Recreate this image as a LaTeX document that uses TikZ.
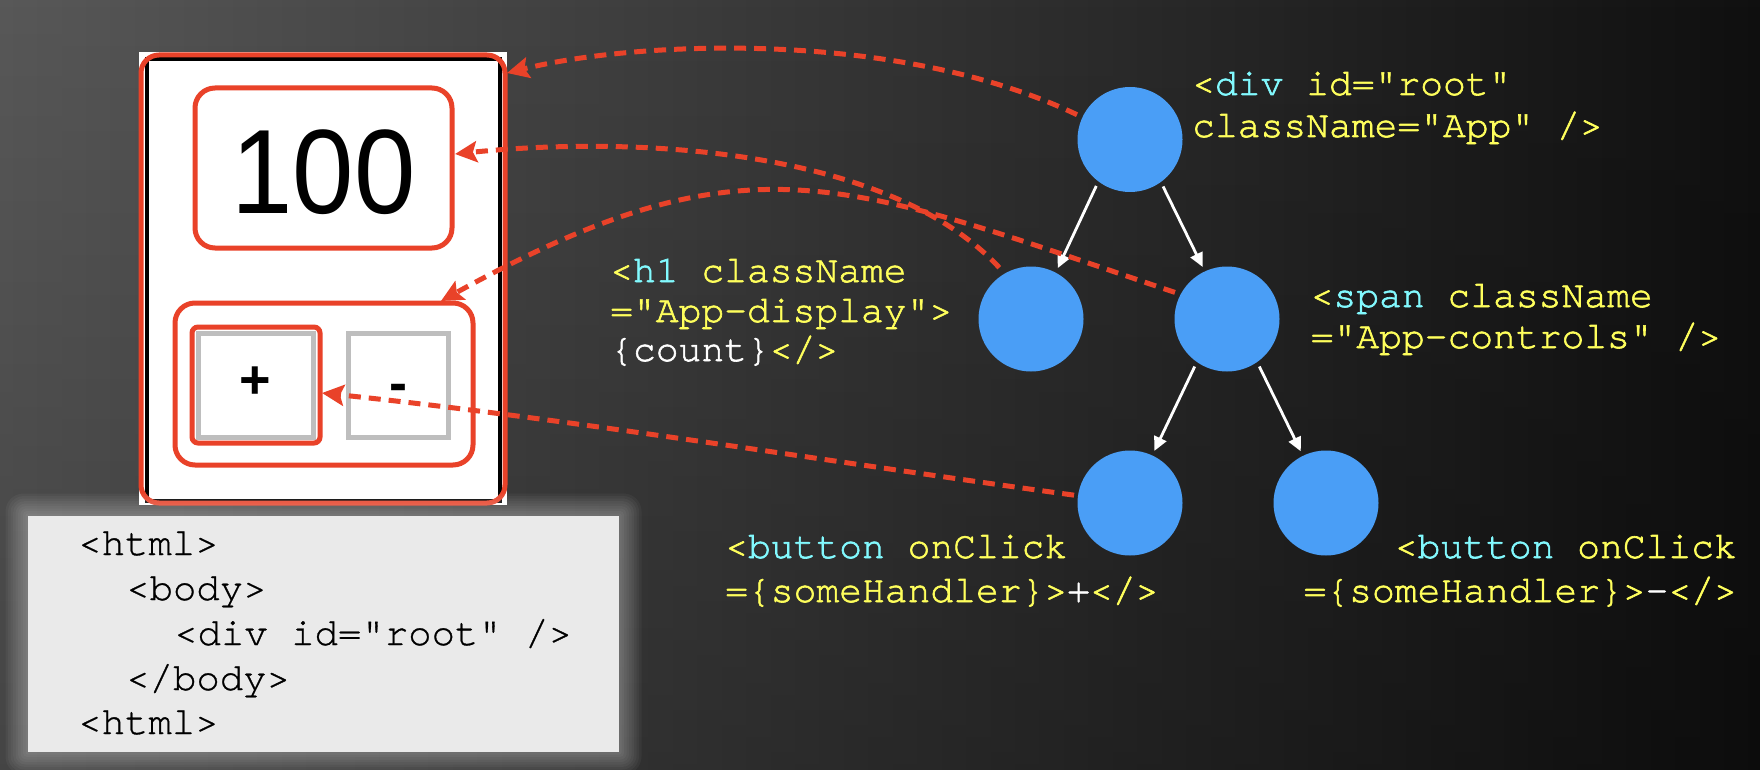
\documentclass[tikz,border=0pt]{standalone}
\usepackage{fontspec}
\setmainfont{Liberation Sans}
\newfontfamily\codefont{texgyrecursor-regular.otf}[FakeBold=0.8]
\newfontfamily\labelfont{texgyrecursor-regular.otf}[FakeBold=1.6]
\newfontfamily\uifont{Liberation Sans}
\newfontfamily\bigfont{Liberation Sans}[FakeStretch=0.92]
\usetikzlibrary{arrows.meta,calc,fadings}

\definecolor{bgL}{RGB}{88,88,88}
\definecolor{bgM}{RGB}{46,46,46}
\definecolor{bgR}{RGB}{16,16,16}
\definecolor{redc}{RGB}{233,66,41}
\definecolor{nodeblue}{RGB}{74,158,246}
\definecolor{ylw}{RGB}{255,255,92}
\definecolor{cyn}{RGB}{130,250,255}
\definecolor{codebg}{RGB}{234,234,234}
\definecolor{btngray}{RGB}{190,190,190}

\begin{document}
\begin{tikzpicture}[x=1pt,y=-1pt,
  treenode/.style={circle, fill=nodeblue, minimum size=105pt, inner sep=0pt, outer sep=0pt},
  treearrow/.style={draw=white, line width=2.8pt, -{Triangle[length=14pt,width=13pt]}, shorten <=5pt, shorten >=5pt},
  redlink/.style={draw=redc, line width=5pt, dash pattern=on 12pt off 8pt, -{Stealth[length=22pt,width=21pt,inset=4pt]}},
  redbox/.style={draw=redc, line width=5pt, rectangle, inner sep=0pt, outer sep=0pt},
  lbl/.style={font=\labelfont\fontsize{38}{42}\selectfont, text=ylw, inner sep=0pt, anchor=base west},
  codeline/.style={font=\codefont\fontsize{39}{44}\selectfont, text=black, inner sep=0pt, anchor=base west},
  btnbox/.style={draw=btngray, line width=5pt, fill=white, rectangle, inner sep=0pt, outer sep=0pt},
  btntext/.style={font=\uifont\bfseries\fontsize{54}{54}\selectfont, text=black, inner sep=0pt},
]
\useasboundingbox (0,0) rectangle (1760,770);
% background
\shade[left color=bgL, middle color=bgM, right color=bgR] (0,0) rectangle (1760,770);
\fill[black, opacity=0.22, path fading=north] (0,0) rectangle (1760,770);

% app screenshot
\fill[white] (139,52) rectangle (507,505);
\draw[black, line width=4pt] (147,59) rectangle (500,501);
\node[redbox, minimum width=364pt, minimum height=448pt, rounded corners=18pt] (appbox) at (323,279) {};
\node[redbox, minimum width=257pt, minimum height=160pt, rounded corners=20pt] (dispbox) at (323.5,168) {};
\node[font=\bigfont\fontsize{120}{120}\selectfont, text=black, inner sep=0pt] (count) at (323.5,172) {100};
\node[redbox, minimum width=298pt, minimum height=162pt, rounded corners=20pt] (ctrlbox) at (324,384) {};
\node[btnbox, minimum width=115pt, minimum height=104pt] (plusbtn) at (255.5,385) {};
\node[btnbox, minimum width=100pt, minimum height=104pt] (minusbtn) at (398,385) {};
\node[btntext] (plustxt) at (255,383) {+};
\node[btntext] (minustxt) at (398,393) {-};
\node[redbox, minimum width=128pt, minimum height=116pt, rounded corners=6pt] (plusbox) at (256,385) {};

% code box with glow
\foreach \i in {1,...,9}{
  \fill[white, opacity=0.04, rounded corners={\i*2pt}] ({28-\i*2.5},{516-\i*2.5}) rectangle ({619+\i*2.5},{752+\i*2.5});
}
\node[fill=codebg, minimum width=591pt, minimum height=236pt, inner sep=0pt] (codebox) at (323.5,634) {};
\node[codeline] (c1) at (78,555) {<html>};
\node[codeline] (c2) at (126,600) {<body>};
\node[codeline] (c3) at (174,645) {<div id="root" />};
\node[codeline] (c4) at (126,690) {</body>};
\node[codeline] (c5) at (78,734) {<html>};

% tree
\node[treenode] (root) at (1130,139.5) {};
\node[treenode] (h1) at (1031,319) {};
\node[treenode] (span) at (1227,319) {};
\node[treenode] (btnp) at (1130,503) {};
\node[treenode] (btnm) at (1326,503) {};

\draw[treearrow] (root.233) -- (h1.62);
\draw[treearrow] (root.306) -- (span.115);
\draw[treearrow] (span.235) -- (btnp.65);
\draw[treearrow] (span.305) -- (btnm.116);

% labels
\node[lbl] (rl1) at (1192,95) {<\textcolor{cyn}{div} id="root"};
\node[lbl] (rl2) at (1192,137) {className="App" />};
\node[lbl] (hl1) at (610,282) {<\textcolor{cyn}{h1} className};
\node[lbl] (hl2) at (610,322) {="App-display">};
\node[lbl] (hl3) at (610,361) {\textcolor{white}{\{count\}}</>};
\node[lbl] (sl1) at (1310.5,307) {<\textcolor{cyn}{span} className};
\node[lbl] (sl2) at (1310.5,348) {="App-controls" />};
\node[lbl] (bpl1) at (725,558) {<\textcolor{cyn}{button} onClick};
\node[lbl] (bpl2) at (725,602) {=\{someHandler\}>\textcolor{white}{+}</>};
\node[lbl, anchor=base east] (bml1) at (1737,558) {<\textcolor{cyn}{button} onClick};
\node[lbl, anchor=base east] (bml2) at (1737,602) {=\{someHandler\}>\textcolor{white}{-}</>};

% red links
\draw[redlink, shorten <=6pt] (root.155) .. controls (900,30) and (640,40) .. ($(appbox.north east)+(2,18)$);
\draw[redlink, shorten <=8pt] (h1.120) .. controls (890,150) and (640,135) .. ($(dispbox.east)+(3,-14)$);
\draw[redlink, shorten <=6pt] (span.152) .. controls (842,180) and (748,132) .. ($(ctrlbox.north east)+(-32,-2)$);
\draw[redlink, shorten <=4pt] (btnp.172) .. controls (830,462) and (571,419) .. ($(plusbox.east)+(2,8)$);
\end{tikzpicture}
\end{document}
